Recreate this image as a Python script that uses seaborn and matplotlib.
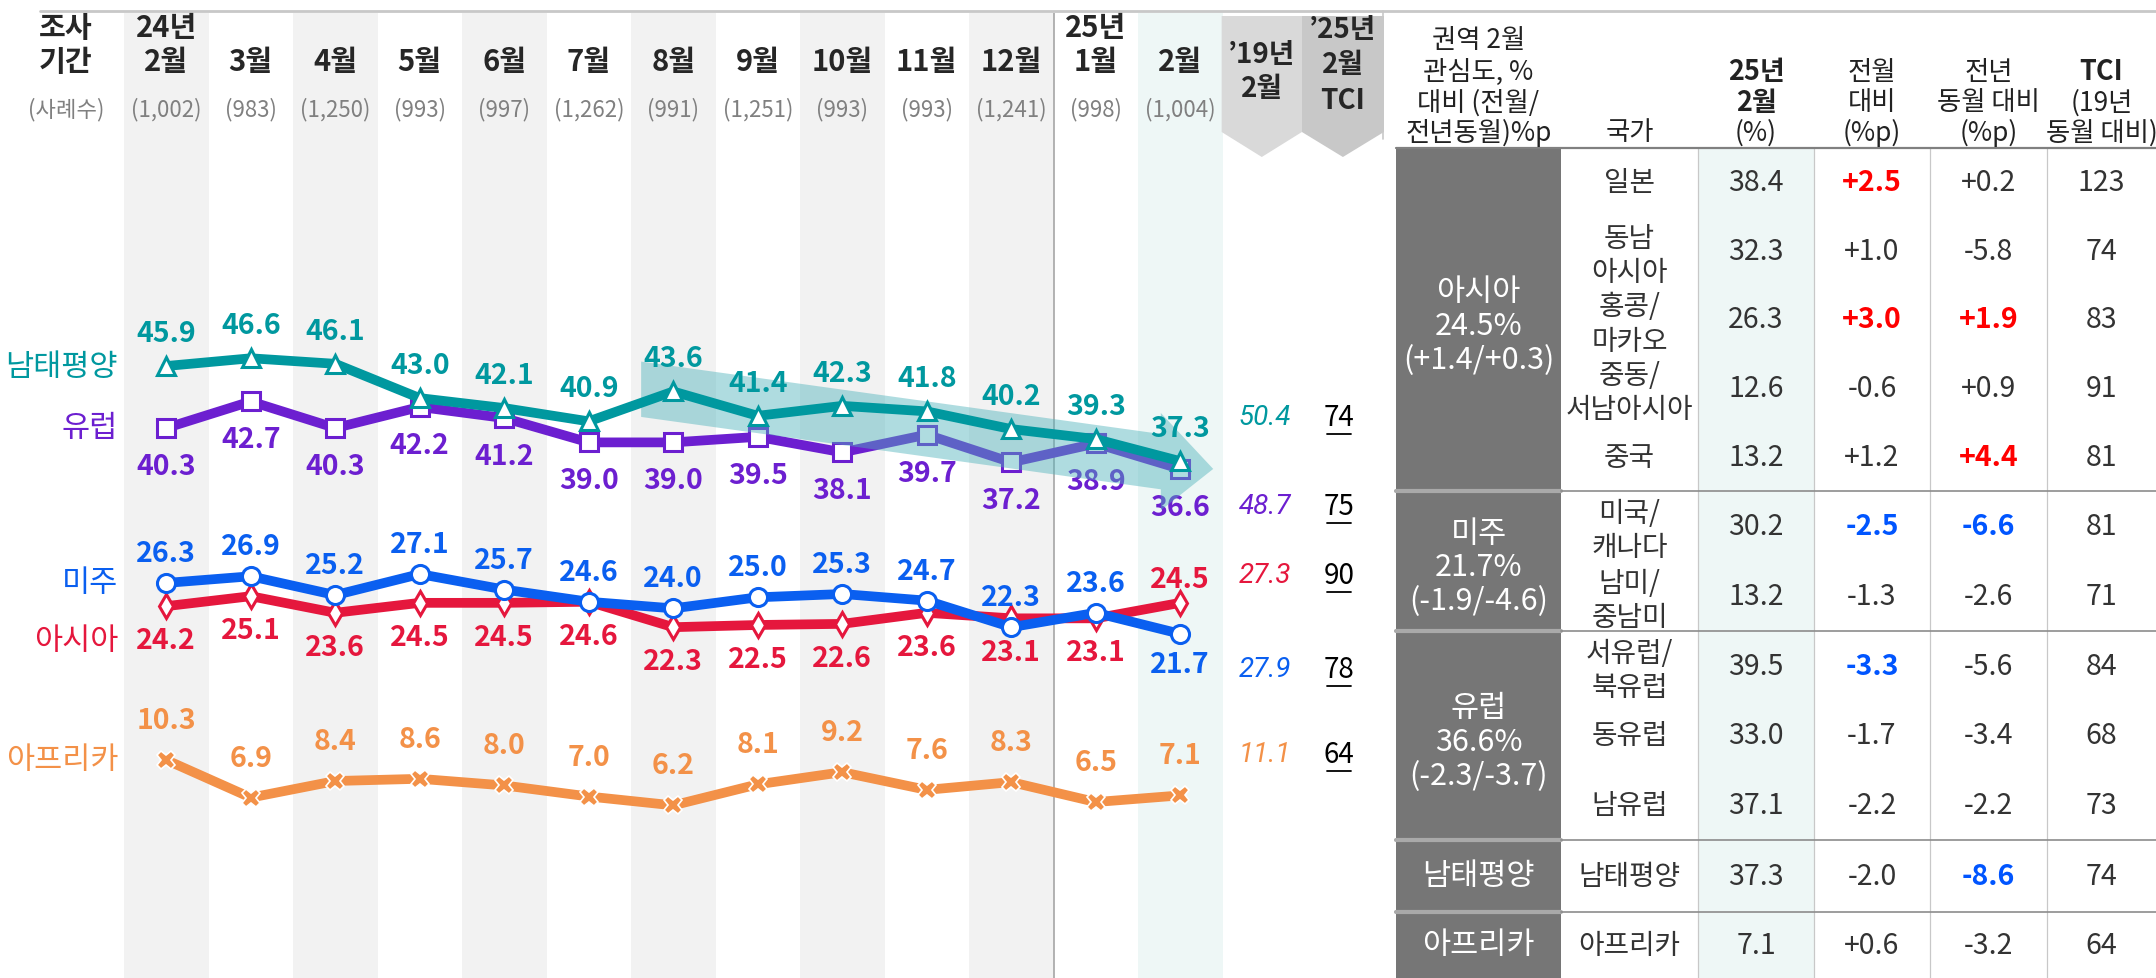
import numpy as np
import pandas as pd
import matplotlib
matplotlib.use("Agg")
import matplotlib.pyplot as plt
from matplotlib.patches import Polygon, Rectangle
from matplotlib.transforms import blended_transform_factory
import seaborn as sns

# ---- data ----
months = ["2월", "3월", "4월", "5월", "6월", "7월", "8월", "9월", "10월", "11월", "12월", "1월", "2월"]
year_tags = ["24년", "", "", "", "", "", "", "", "", "", "", "25년", ""]
samples = ["(1,002)", "(983)", "(1,250)", "(993)", "(997)", "(1,262)", "(991)",
           "(1,251)", "(993)", "(993)", "(1,241)", "(998)", "(1,004)"]

oceania = [45.9, 46.6, 46.1, 43.0, 42.1, 40.9, 43.6, 41.4, 42.3, 41.8, 40.2, 39.3, 37.3]
europe = [40.3, 42.7, 40.3, 42.2, 41.2, 39.0, 39.0, 39.5, 38.1, 39.7, 37.2, 38.9, 36.6]
americas = [26.3, 26.9, 25.2, 27.1, 25.7, 24.6, 24.0, 25.0, 25.3, 24.7, 22.3, 23.6, 21.7]
asia = [24.2, 25.1, 23.6, 24.5, 24.5, 24.6, 22.3, 22.5, 22.6, 23.6, 23.1, 23.1, 24.5]
africa = [10.3, 6.9, 8.4, 8.6, 8.0, 7.0, 6.2, 8.1, 9.2, 7.6, 8.3, 6.5, 7.1]

# side columns: '19년 2월 value and '25년 2월 TCI (order: 남태평양, 유럽, 아시아, 미주, 아프리카)
side_colors = ["#00989f", "#6c1fd0", "#e5173d", "#0a5ff0", "#f39148"]
feb19 = [50.4, 48.7, 27.3, 27.9, 11.1]
tci25 = [74, 75, 90, 78, 64]
side_rows_px = [418, 507, 576, 670, 755]

# table
groups = ["아시아\n24.5%\n(+1.4/+0.3)", "미주\n21.7%\n(-1.9/-4.6)", "유럽\n36.6%\n(-2.3/-3.7)", "남태평양", "아프리카"]
group_sizes = [5, 2, 3, 1, 1]
countries = ["일본", "동남\n아시아", "홍콩/\n마카오", "중동/\n서남아시아", "중국",
             "미국/\n캐나다", "남미/\n중남미", "서유럽/\n북유럽", "동유럽", "남유럽", "남태평양", "아프리카"]
feb25 = [38.4, 32.3, 26.3, 12.6, 13.2, 30.2, 13.2, 39.5, 33.0, 37.1, 37.3, 7.1]
mom = [2.5, 1.0, 3.0, -0.6, 1.2, -2.5, -1.3, -3.3, -1.7, -2.2, -2.0, 0.6]
yoy = [0.2, -5.8, 1.9, 0.9, 4.4, -6.6, -2.6, -5.6, -3.4, -2.2, -8.6, -3.2]
tci = [123, 74, 83, 91, 81, 81, 71, 84, 68, 73, 74, 64]
mom_hl = [1, 0, 1, 0, 0, 1, 0, 1, 0, 0, 0, 0]
yoy_hl = [0, 0, 1, 0, 1, 1, 0, 0, 0, 0, 1, 0]

# ---- layout (pixels) ----
W, H = 2156, 979
X0, X1, STEP = 124, 1390, 84.5
TOP = 14

sns.set_theme(style="white")
plt.rcParams['font.family'] = ['Noto Sans CJK KR', 'DejaVu Sans']

fig = plt.figure(figsize=(W / 100, H / 100), dpi=100)
ax = fig.add_axes([X0 / W, 0, (X1 - X0) / W, (H - TOP) / H])
ax.set_xlim(-0.5, -0.5 + (X1 - X0) / STEP)
ax.set_ylim(-9.4, 77.8)
ax.axis('off')

tr = blended_transform_factory(ax.transData, fig.transFigure)


def py(p):
    return 1 - p / H


# column bands
for i in range(0, 11, 2):
    ax.axvspan(i - .5, i + .5, color='#f2f2f2', lw=0, zorder=0)
ax.axvspan(11.5, 12.5, color='#eef7f6', lw=0, zorder=0)
ax.axvline(10.5, color='#a6a6a6', lw=1.2, zorder=1)

# header of the chart
fig.add_artist(plt.Line2D([40 / W, 1], [py(12), py(12)], color='#c8c8c8', lw=2))
fig.text(66 / W, py(28), "조사", ha='center', va='center', fontsize=21, fontweight='bold')
fig.text(66 / W, py(62), "기간", ha='center', va='center', fontsize=21, fontweight='bold')
fig.text(66 / W, py(110), "(사례수)", ha='center', va='center', fontsize=16, color='#808080')
for i, m in enumerate(months):
    ax.text(i, py(62), m, transform=tr, ha='center', va='center', fontsize=21, fontweight='bold')
    if year_tags[i]:
        ax.text(i, py(28), year_tags[i], transform=tr, ha='center', va='center', fontsize=21, fontweight='bold')
    ax.text(i, py(110), samples[i], transform=tr, ha='center', va='center', fontsize=16, color='#808080')

# chevrons for the side columns
for (l, r), col in zip([(12.49, 13.44), (13.44, 14.41)], ['#d9d9d9', '#c8c8c8']):
    pts = [(l, py(17)), (r, py(17)), (r, py(133)), ((l + r) / 2, py(158)), (l, py(133))]
    ax.add_patch(Polygon(pts, closed=True, transform=tr, color=col, lw=0, zorder=1, clip_on=False))
ax.text(12.965, py(55), "’19년", transform=tr, ha='center', va='center', fontsize=20, fontweight='bold')
ax.text(12.965, py(89), "2월", transform=tr, ha='center', va='center', fontsize=20, fontweight='bold')
for yy, t in zip([30, 65, 101], ["’25년", "2월", "TCI"]):
    ax.text(13.925, py(yy), t, transform=tr, ha='center', va='center', fontsize=20, fontweight='bold')

# ---- lines ----
idx = np.arange(len(months))
# name, values, colour, marker, value-label offset (px), series-name offset (px), zorder
series = [
    ("아프리카", africa, "#f39148", "X", 40, 0, 2),
    ("아시아", asia, "#e5173d", "d", -34, -34, 2),
    ("미주", americas, "#0a5ff0", "o", 30, 0, 3),
    ("유럽", europe, "#6c1fd0", "s", -38, 0, 2),
    ("남태평양", oceania, "#00989f", "^", 33, 0, 5),
]
label_flip = {("미주", 12): -30, ("아시아", 12): 24}

for name, vals, c, mk, off, noff, z in series:
    df = pd.DataFrame({"idx": idx, "value": vals})
    if mk == "X":
        sns.lineplot(data=df, x="idx", y="value", ax=ax, color=c, lw=7, marker=mk, markersize=13,
                     markerfacecolor=c, markeredgecolor='white', markeredgewidth=1.2, zorder=z)
    else:
        sns.lineplot(data=df, x="idx", y="value", ax=ax, color=c, lw=7, marker=mk,
                     markersize=12 if mk == "d" else 13, markerfacecolor='white',
                     markeredgecolor=c, markeredgewidth=2.2, zorder=z)
    for i, v in enumerate(vals):
        o = label_flip.get((name, i), off)
        ax.annotate(f"{v:.1f}", (i, v), xytext=(0, o), textcoords='offset pixels',
                    ha='center', va='center', fontsize=20.5, fontweight='bold', color=c, zorder=z + 0.5)
    ax.annotate(name, (-0.57, vals[0]), xytext=(0, noff), textcoords='offset pixels',
                ha='right', va='center', fontsize=22, color=c, annotation_clip=False)

ax.set_xlabel("")
ax.set_ylabel("")
ax.axis('off')

# trend arrow over the 남태평양 line
sx, sy, tx_, ty = 5.62, 43.8, 12.39, 36.6
bx = tx_ - 0.62
by = sy + (ty - sy) * (bx - sx) / (tx_ - sx)
arrow = [(sx, sy + 2.5), (bx, by + 2.5), (bx, by + 4.4), (tx_, ty),
         (bx, by - 4.4), (bx, by - 2.5), (sx, sy - 2.5)]
ax.add_patch(Polygon(arrow, closed=True, color='#4fb3bb', alpha=0.45, lw=0, zorder=4))

# side column values
for yy, v, t, c in zip(side_rows_px, feb19, tci25, side_colors):
    ax.text(13.0, py(yy), f"{v:.1f}", transform=tr, ha='center', va='center', fontsize=20,
            color=c, fontstyle='italic', fontfamily=['Roboto', 'DejaVu Sans'])
    ax.text(13.88, py(yy), str(t), transform=tr, ha='center', va='center', fontsize=20, color='black')
    ax.plot([13.74, 14.02], [py(yy + 17)] * 2, transform=tr, color='black', lw=1.3, clip_on=False)

# ---- table ----
tb = fig.add_axes([0, 0, 1, 1], zorder=3)
tb.set_xlim(0, W)
tb.set_ylim(H, 0)
tb.axis('off')

cols = [1396, 1561, 1698, 1814, 1930, 2047, W]
HB = 149
gedges = [149, 492, 632, 841, 913, 979]
ccen = [(cols[k] + cols[k + 1]) / 2 for k in range(6)]

tb.plot([1383, 1383], [12, 140], color='#c8c8c8', lw=1.2)
tb.add_patch(Rectangle((cols[2], HB), cols[3] - cols[2], H - HB, color='#eef7f6', lw=0))
for k in range(2, 6):
    tb.plot([cols[k], cols[k]], [HB, H], color='#c8c8c8', lw=0.9)

# header
hdr = [
    (ccen[0], ["권역 2월", "관심도, %", "대비 (전월/", "전년동월)%p"], [41, 72, 103, 133], [0, 0, 0, 0]),
    (ccen[1], ["국가"], [133], [0]),
    (ccen[2], ["25년", "2월", "(%)"], [72, 103, 133], [1, 1, 0]),
    (ccen[3], ["전월", "대비", "(%p)"], [72, 103, 133], [0, 0, 0]),
    (ccen[4], ["전년", "동월 대비", "(%p)"], [72, 103, 133], [0, 0, 0]),
    (ccen[5], ["TCI", "(19년", "동월 대비)"], [72, 103, 133], [1, 0, 0]),
]
for x, lines, ys, bold in hdr:
    for t, yy, b in zip(lines, ys, bold):
        tb.text(x, yy, t, ha='center', va='center', fontsize=19.5 if b else 19, color='#222222',
                fontweight='bold' if b else 'normal')
tb.plot([1396, W], [HB, HB], color='#808080', lw=1.6)

# body
r = 0
for g, (gname, n) in enumerate(zip(groups, group_sizes)):
    top, bot = gedges[g], gedges[g + 1]
    tb.add_patch(Rectangle((cols[0], top), cols[1] - cols[0], bot - top, color='#767676', lw=0))
    tb.text(ccen[0], (top + bot) / 2 + (6 if n > 1 else 0), gname, ha='center', va='center',
            fontsize=22, color='white', linespacing=1.12)
    if g > 0:
        tb.plot([cols[0], cols[1]], [top, top], color='#a9a9a9', lw=3)
        tb.plot([cols[1], W], [top, top], color='#8c8c8c', lw=1.2)
    rh = (bot - top) / n
    for j in range(n):
        yc = top + rh * (j + 0.5)
        tb.text(ccen[1], yc + (4 if "\n" in countries[r] else 0), countries[r], ha='center', va='center',
                fontsize=20, color='#333333', linespacing=1.2)
        tb.text(ccen[2], yc, f"{feb25[r]:.1f}", ha='center', va='center', fontsize=20.5, color='#333333')
        for k, vals, hl in [(3, mom, mom_hl), (4, yoy, yoy_hl)]:
            v = vals[r]
            if hl[r]:
                c, w = ('#ff0000' if v > 0 else '#0055ff'), 'bold'
            else:
                c, w = '#333333', 'normal'
            tb.text(ccen[k], yc, f"{v:+.1f}", ha='center', va='center', fontsize=20.5, color=c, fontweight=w)
        tb.text(ccen[5], yc, str(tci[r]), ha='center', va='center', fontsize=20.5, color='#333333')
        r += 1

fig.savefig("out.png", dpi=100)
